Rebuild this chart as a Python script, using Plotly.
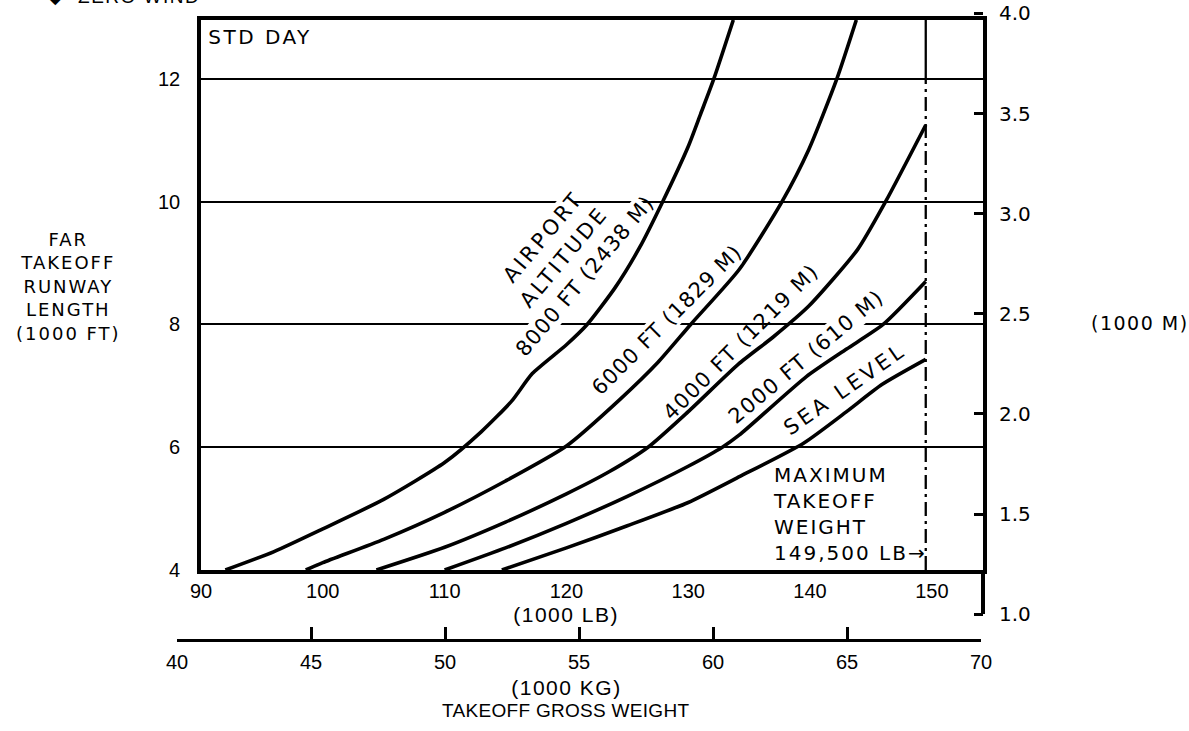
import json
import plotly.graph_objects as go

# ---------------- data ----------------
# takeoff gross weight (1000 LB) and FAR takeoff runway length (1000 FT)
ALT8000_LB = [92.0, 96.0, 100.0, 105.0, 110.0, 113.0, 115.5, 117.2, 120.0, 121.7, 124.0, 126.0, 127.9, 130.0, 131.0, 132.1, 133.7]
ALT8000_FT = [4.0, 4.3, 4.67, 5.15, 5.75, 6.25, 6.75, 7.2, 7.67, 8.0, 8.6, 9.25, 10.0, 10.9, 11.42, 12.0, 12.96]

ALT6000_LB = [98.6, 100.0, 105.0, 110.0, 115.0, 120.0, 124.4, 127.5, 130.2, 134.2, 137.7, 139.9, 142.2, 143.8]
ALT6000_FT = [4.0, 4.12, 4.5, 4.94, 5.45, 6.02, 6.78, 7.38, 8.0, 8.9, 10.0, 10.85, 12.0, 12.96]

ALT4000_LB = [104.4, 110.0, 115.0, 120.0, 123.5, 126.7, 130.0, 134.1, 137.0, 139.9, 143.9, 146.2, 149.5]
ALT4000_FT = [4.0, 4.37, 4.78, 5.24, 5.6, 6.0, 6.58, 7.35, 7.8, 8.3, 9.22, 10.0, 11.25]

ALT2000_LB = [110.0, 115.0, 120.0, 125.0, 130.0, 132.8, 134.2, 139.7, 143.0, 146.0, 149.5]
ALT2000_FT = [4.0, 4.36, 4.76, 5.2, 5.69, 6.0, 6.2, 7.15, 7.6, 8.0, 8.7]

SEA_LB = [114.7, 120.0, 125.0, 130.0, 134.2, 139.5, 143.0, 145.9, 149.5]
SEA_FT = [4.0, 4.36, 4.72, 5.1, 5.52, 6.07, 6.58, 7.02, 7.43]

MAX_TOW_LB = 149.5

LB_TICKS = [90, 100, 110, 120, 130, 140, 150]
LB_GRID = [100, 110, 120, 130, 140]
FT_TICKS = [4, 6, 8, 10, 12]
M_TICKS = [1.0, 1.5, 2.0, 2.5, 3.0, 3.5, 4.0]
KG_TICKS = [40, 45, 50, 55, 60, 65, 70]

CURVES = [
    (ALT8000_LB, ALT8000_FT),
    (ALT6000_LB, ALT6000_FT),
    (ALT4000_LB, ALT4000_FT),
    (ALT2000_LB, ALT2000_FT),
    (SEA_LB, SEA_FT),
]

# ---------------- layout helpers ----------------
W, H = 1189, 731
LB_RANGE = [90, 154.2]
FT_RANGE = [4, 12.96]
FT_PER_M = 3.28084
PLOT_L, PLOT_R, PLOT_B, PLOT_T = 201, 983, 570, 20
PX_PER_KFT = (PLOT_B - PLOT_T) / (FT_RANGE[1] - FT_RANGE[0])
M_TOP_PIX = 13.5          # where the 4.0 (1000 M) tick sits, just above the frame
M_PAD = 0.02


def px(x):
    return x / W


def py(y):
    return 1 - y / H


M_BOT_PIX = PLOT_B - (M_TICKS[0] * FT_PER_M - FT_RANGE[0]) * PX_PER_KFT
M_PX_PER_KM = (M_BOT_PIX - M_TOP_PIX) / (M_TICKS[-1] - M_TICKS[0])


def km_to_pix(km):
    return M_BOT_PIX - (km - M_TICKS[0]) * M_PX_PER_KM


HELV = "Liberation Sans"
WIDE = "DejaVu Sans"

fig = go.Figure()
for lb, ft in CURVES:
    fig.add_trace(go.Scatter(
        x=lb, y=ft, mode="lines", xaxis="x", yaxis="y",
        line=dict(color="black", width=3.6, shape="spline", smoothing=0.6),
        hoverinfo="skip", showlegend=False))

# maximum takeoff weight line: solid above the 12 gridline, dash-dot below
fig.add_trace(go.Scatter(
    x=[MAX_TOW_LB, MAX_TOW_LB], y=[FT_TICKS[-1], FT_RANGE[1]], mode="lines",
    line=dict(color="black", width=2.3), hoverinfo="skip", showlegend=False))
fig.add_trace(go.Scatter(
    x=[MAX_TOW_LB, MAX_TOW_LB], y=[FT_RANGE[0], FT_TICKS[-1]], mode="lines",
    line=dict(color="black", width=2.3, dash="14px,5px,3px,5px"),
    hoverinfo="skip", showlegend=False))

# invisible anchors so that the free metre / kilogram axes are drawn
fig.add_trace(go.Scatter(
    x=[LB_TICKS[0]], y=[M_TICKS[0]], xaxis="x", yaxis="y2", mode="markers",
    marker=dict(size=1, opacity=0), hoverinfo="skip", showlegend=False))
fig.add_trace(go.Scatter(
    x=[KG_TICKS[0]], y=[M_TICKS[0]], xaxis="x3", yaxis="y2", mode="markers",
    marker=dict(size=1, opacity=0), hoverinfo="skip", showlegend=False))
fig.add_trace(go.Scatter(
    x=[KG_TICKS[0]], y=[M_TICKS[0]], xaxis="x3", yaxis="y5", mode="markers",
    marker=dict(size=1, opacity=0), hoverinfo="skip", showlegend=False))

M_RANGE = [M_TICKS[0] - M_PAD, M_TICKS[-1] + M_PAD]
M_BOT = km_to_pix(M_RANGE[0])
M_TOP = km_to_pix(M_RANGE[1])

fig.update_layout(
    width=W, height=H,
    margin=dict(l=0, r=0, t=0, b=0, autoexpand=False),
    paper_bgcolor="white", plot_bgcolor="rgba(0,0,0,0)",
    showlegend=False,
    xaxis=dict(
        domain=[px(PLOT_L), px(PLOT_R)], range=LB_RANGE, anchor="y",
        tickmode="array", tickvals=LB_TICKS, ticktext=[str(v) for v in LB_TICKS],
        ticks="", showgrid=False, zeroline=False,
        showline=True, linecolor="black", linewidth=3.6, mirror=True,
        tickfont=dict(family=HELV, size=20, color="black"), ticklabelstandoff=0),
    xaxis4=dict(
        overlaying="x", anchor="y", range=LB_RANGE,
        tickmode="array", tickvals=LB_GRID, showticklabels=False, ticks="",
        showgrid=True, gridcolor="black", gridwidth=2.2, zeroline=False, showline=False),
    yaxis=dict(
        domain=[py(PLOT_B), py(PLOT_T)], range=FT_RANGE, anchor="x",
        tickmode="array", tickvals=FT_TICKS, ticktext=[str(v) for v in FT_TICKS],
        ticks="", showgrid=True, gridcolor="black", gridwidth=2.2, zeroline=False,
        showline=True, linecolor="black", linewidth=3.6, mirror=True,
        tickfont=dict(family=HELV, size=20, color="black"), ticklabelstandoff=13),
    yaxis2=dict(
        anchor="free", position=px(PLOT_R), side="right",
        domain=[py(M_BOT), py(M_TOP)], range=M_RANGE,
        tickmode="array", tickvals=M_TICKS, ticktext=[f"{v:.1f}" for v in M_TICKS],
        ticks="inside", ticklen=9, tickwidth=2.5, tickcolor="black",
        showline=False, showgrid=False, zeroline=False, ticklabeloverflow="allow",
        tickfont=dict(family=WIDE, size=20, color="black"), ticklabelstandoff=15),
    yaxis5=dict(
        anchor="free", position=px(PLOT_R), side="right",
        domain=[py(M_BOT_PIX), py(PLOT_B)], range=[0, 1],
        showticklabels=False, ticks="", showgrid=False, zeroline=False,
        showline=True, linecolor="black", linewidth=3.6),
    xaxis3=dict(
        anchor="free", position=py(640), side="bottom",
        domain=[px(177), px(981)], range=[KG_TICKS[0], KG_TICKS[-1]],
        tickmode="array", tickvals=KG_TICKS, ticktext=[str(v) for v in KG_TICKS],
        ticks="inside", ticklen=12, tickwidth=2.5, tickcolor="black",
        showline=True, linecolor="black", linewidth=3,
        showgrid=False, zeroline=False,
        tickfont=dict(family=HELV, size=20, color="black"), ticklabelstandoff=3),
)

SPACING = []


def note(text, x, y, size=19, family=WIDE, angle=0, xanchor="center",
         yanchor="middle", align="center", bg=None, spacing=0):
    fig.add_annotation(
        text=text, x=px(x), y=py(y), xref="paper", yref="paper",
        xanchor=xanchor, yanchor=yanchor, align=align, showarrow=False,
        textangle=angle, font=dict(family=family, size=size, color="black"),
        bgcolor=bg, borderpad=0)
    SPACING.append(spacing)


note("◆  ZERO WIND", 56, -4, size=19, family=HELV, xanchor="left", spacing=1.5)
note("STD DAY", 216, 37, size=20, family=WIDE, xanchor="left", bg="white", spacing=2.5)
note("FAR<br>TAKEOFF<br>RUNWAY<br>LENGTH<br>(1000 FT)", 68, 286, size=18, spacing=2)
note("(1000 M)", 1140, 323, size=19, spacing=1.5)
note("(1000 LB)", 566, 614, size=21, family=HELV, spacing=1.5)
note("(1000 KG)", 566, 687, size=21, family=HELV, spacing=1.5)
note("TAKEOFF GROSS WEIGHT", 566, 710, size=19, family=HELV, spacing=0.3)

note("AIRPORT", 543, 237, size=21, angle=-50, bg="white", spacing=3)
note("ALTITUDE", 564, 257, size=21, angle=-50, bg="white", spacing=3)
note("8000 FT (2438 M)", 585, 276, size=21, angle=-50, bg="white", spacing=1)
note("6000 FT (1829 M)", 667, 320, size=21, angle=-45, bg="white", spacing=1)
note("4000 FT (1219 M)", 741, 342, size=21, angle=-45, spacing=1.5)
note("2000 FT (610 M)", 806, 357, size=21, angle=-40, bg="white", spacing=1.5)
note("SEA LEVEL", 845, 389, size=21, angle=-35, bg="white", spacing=3.5)
note("MAXIMUM<br>TAKEOFF<br>WEIGHT<br>149,500 LB→", 772, 514, size=20,
     xanchor="left", align="left", bg="white", spacing=2)

POST = (
    "document.body.style.margin='0';document.body.style.padding='0';"
    "var sp=" + json.dumps(SPACING) + ";"
    "document.querySelectorAll('g.annotation').forEach(function(g){"
    "var i=+g.getAttribute('data-index');var t=g.querySelector('text');"
    "if(t&&sp[i]){t.style.letterSpacing=sp[i]+'px';}});"
)

fig.write_html("out.html", post_script=POST, config={"displayModeBar": False})
